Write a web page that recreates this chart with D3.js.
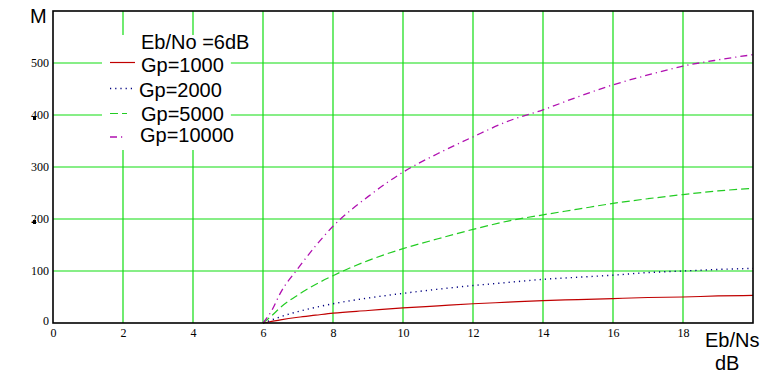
<!DOCTYPE html>
<html>
<head>
<meta charset="utf-8">
<script src="https://cdn.jsdelivr.net/npm/d3@7"></script>
<style>
  body { margin: 0; background: #fff; }
  svg { display: block; }
</style>
</head>
<body>
<div id="chart"></div>
<script>

// DATA
const ebns = [6, 6.25, 6.5, 7, 7.5, 8, 9, 10, 11, 12, 13, 14, 15, 16, 17, 18, 19, 20];
const gp1000 = [0, 3, 6, 11, 15, 19, 24, 29, 33, 37, 40, 43, 45, 47, 49, 50, 52, 53];
const gp2000 = [0, 6, 12, 22, 30, 37, 48, 57, 65, 72, 78, 84, 88, 92, 97, 100, 103, 105];
const gp5000 = [0, 14, 30, 54, 74, 91, 120, 143, 162, 180, 196, 208, 219, 230, 239, 247, 254, 259];
const gp10000 = [0, 24, 58, 105, 148, 186, 243, 290, 326, 358, 388, 410, 435, 458, 477, 494, 506, 516];
const xTicks = [0, 2, 4, 6, 8, 10, 12, 14, 16, 18];
const yTicks = [0, 100, 200, 300, 400, 500];
const legendTitle = 'Eb/No =6dB';
const seriesNames = ['Gp=1000', 'Gp=2000', 'Gp=5000', 'Gp=10000'];


// CHART
function drawChart() {
	const w = 769;
	const h = 380;
	const padLeft = 53;
	const padRight = 16;
	const padTop = 11;
	const padBottom = 57;

	const xScale = d3.scaleLinear()
		.domain([0, 20])
		.range([padLeft, w - padRight]);
	const yScale = d3.scaleLinear()
		.domain([0, 600])
		.range([h - padBottom, padTop]);

	const svg = d3.select('#chart')
		.append('svg')
		.attr('width', w)
		.attr('height', h);

	const gridColor = '#11dd11';

	// grid
	svg.append('g')
		.selectAll('line')
		.data(xTicks.filter(d => d > 0))
		.join('line')
		.attr('x1', d => xScale(d)).attr('x2', d => xScale(d))
		.attr('y1', yScale(0)).attr('y2', yScale(600))
		.attr('stroke', gridColor).attr('stroke-width', 1.2);
	svg.append('g')
		.selectAll('line')
		.data(yTicks.filter(d => d > 0))
		.join('line')
		.attr('x1', xScale(0)).attr('x2', xScale(20))
		.attr('y1', d => yScale(d)).attr('y2', d => yScale(d))
		.attr('stroke', gridColor).attr('stroke-width', 1.2);

	// series
	const series = [
		{ name: seriesNames[0], values: gp1000, color: '#c00000', dash: null, width: 1.2 },
		{ name: seriesNames[1], values: gp2000, color: '#000080', dash: '1.2,4', width: 1.4 },
		{ name: seriesNames[2], values: gp5000, color: '#22cc22', dash: '8,4', width: 1.2 },
		{ name: seriesNames[3], values: gp10000, color: '#b010b0', dash: '7,4,1.2,4', width: 1.3 }
	];

	const line = d3.line()
		.x((d, i) => xScale(ebns[i]))
		.y(d => yScale(d))
		.curve(d3.curveMonotoneX);

	svg.append('g')
		.selectAll('path')
		.data(series)
		.join('path')
		.attr('d', d => line(d.values))
		.attr('fill', 'none')
		.attr('stroke', d => d.color)
		.attr('stroke-width', d => d.width)
		.attr('stroke-dasharray', d => d.dash);

	// frame
	svg.append('rect')
		.attr('x', xScale(0)).attr('y', yScale(600))
		.attr('width', xScale(20) - xScale(0))
		.attr('height', yScale(0) - yScale(600))
		.attr('fill', 'none')
		.attr('stroke', '#000')
		.attr('stroke-width', 1.6);

	// axes (labels only, Mathcad style)
	const xAxis = d3.axisBottom(xScale).tickValues(xTicks).tickSize(0).tickPadding(5);
	const yAxis = d3.axisLeft(yScale).tickValues(yTicks).tickSize(0).tickPadding(4);
	const gx = svg.append('g').attr('transform', `translate(0,${yScale(0)})`).call(xAxis);
	const gy = svg.append('g').attr('transform', `translate(${xScale(0)},0)`).call(yAxis);
	[gx, gy].forEach(g => {
		g.select('.domain').remove();
		g.selectAll('text')
			.attr('font-family', '"Liberation Serif", "Times New Roman", serif')
			.attr('font-size', 12)
			.attr('fill', '#000');
	});
	gy.selectAll('text').filter(d => d === 0).attr('dy', '0.1em');

	// small stray marks beside 400 and 200
	svg.append('g')
		.selectAll('rect')
		.data([400, 200])
		.join('rect')
		.attr('x', 33).attr('y', d => yScale(d) + 1)
		.attr('width', 3).attr('height', 4)
		.attr('fill', '#000');

	// axis titles
	const sans = '"Liberation Sans", Arial, sans-serif';
	svg.append('text').text('M')
		.attr('x', 30).attr('y', 23)
		.attr('font-family', sans).attr('font-size', 20);
	svg.append('text').text('Eb/Ns')
		.attr('x', 705).attr('y', 347)
		.attr('font-family', sans).attr('font-size', 20);
	svg.append('text').text('dB')
		.attr('x', 715).attr('y', 370)
		.attr('font-family', sans).attr('font-size', 20);

	// legend
	const leg = svg.append('g');
	const rows = [
		{ text: legendTitle, x: 141, y: 49, top: 35, bottom: 55 },
		{ text: series[0].name, x: 141, y: 72, top: 55, bottom: 79, s: series[0], ly: 62.5, lx2: 135 },
		{ text: series[1].name, x: 139, y: 97, top: 79, bottom: 103, s: series[1], ly: 88.5, lx2: 132 },
		{ text: series[2].name, x: 141, y: 121, top: 103, bottom: 126, s: series[2], ly: 113.5, lx2: 127 },
		{ text: series[3].name, x: 140, y: 142, top: 126, bottom: 150, s: series[3], ly: 137, lx2: 124 }
	];
	rows.forEach(r => {
		const bg = leg.append('rect').attr('fill', '#fff');
		const t = leg.append('text').text(r.text)
			.attr('x', r.x).attr('y', r.y)
			.attr('font-family', sans).attr('font-size', 20)
			.attr('fill', '#000');
		const len = t.node().getComputedTextLength();
		bg.attr('x', 102).attr('y', r.top)
			.attr('width', r.x + len + 7 - 102)
			.attr('height', r.bottom - r.top);
		if (r.s) {
			leg.append('line')
				.attr('x1', 110).attr('x2', r.lx2)
				.attr('y1', r.ly).attr('y2', r.ly)
				.attr('stroke', r.s.color)
				.attr('stroke-width', r.s.width)
				.attr('stroke-dasharray', r.s.dash);
		}
	});
}

document.addEventListener('DOMContentLoaded', () => {
	drawChart();
});
</script>
</body>
</html>
